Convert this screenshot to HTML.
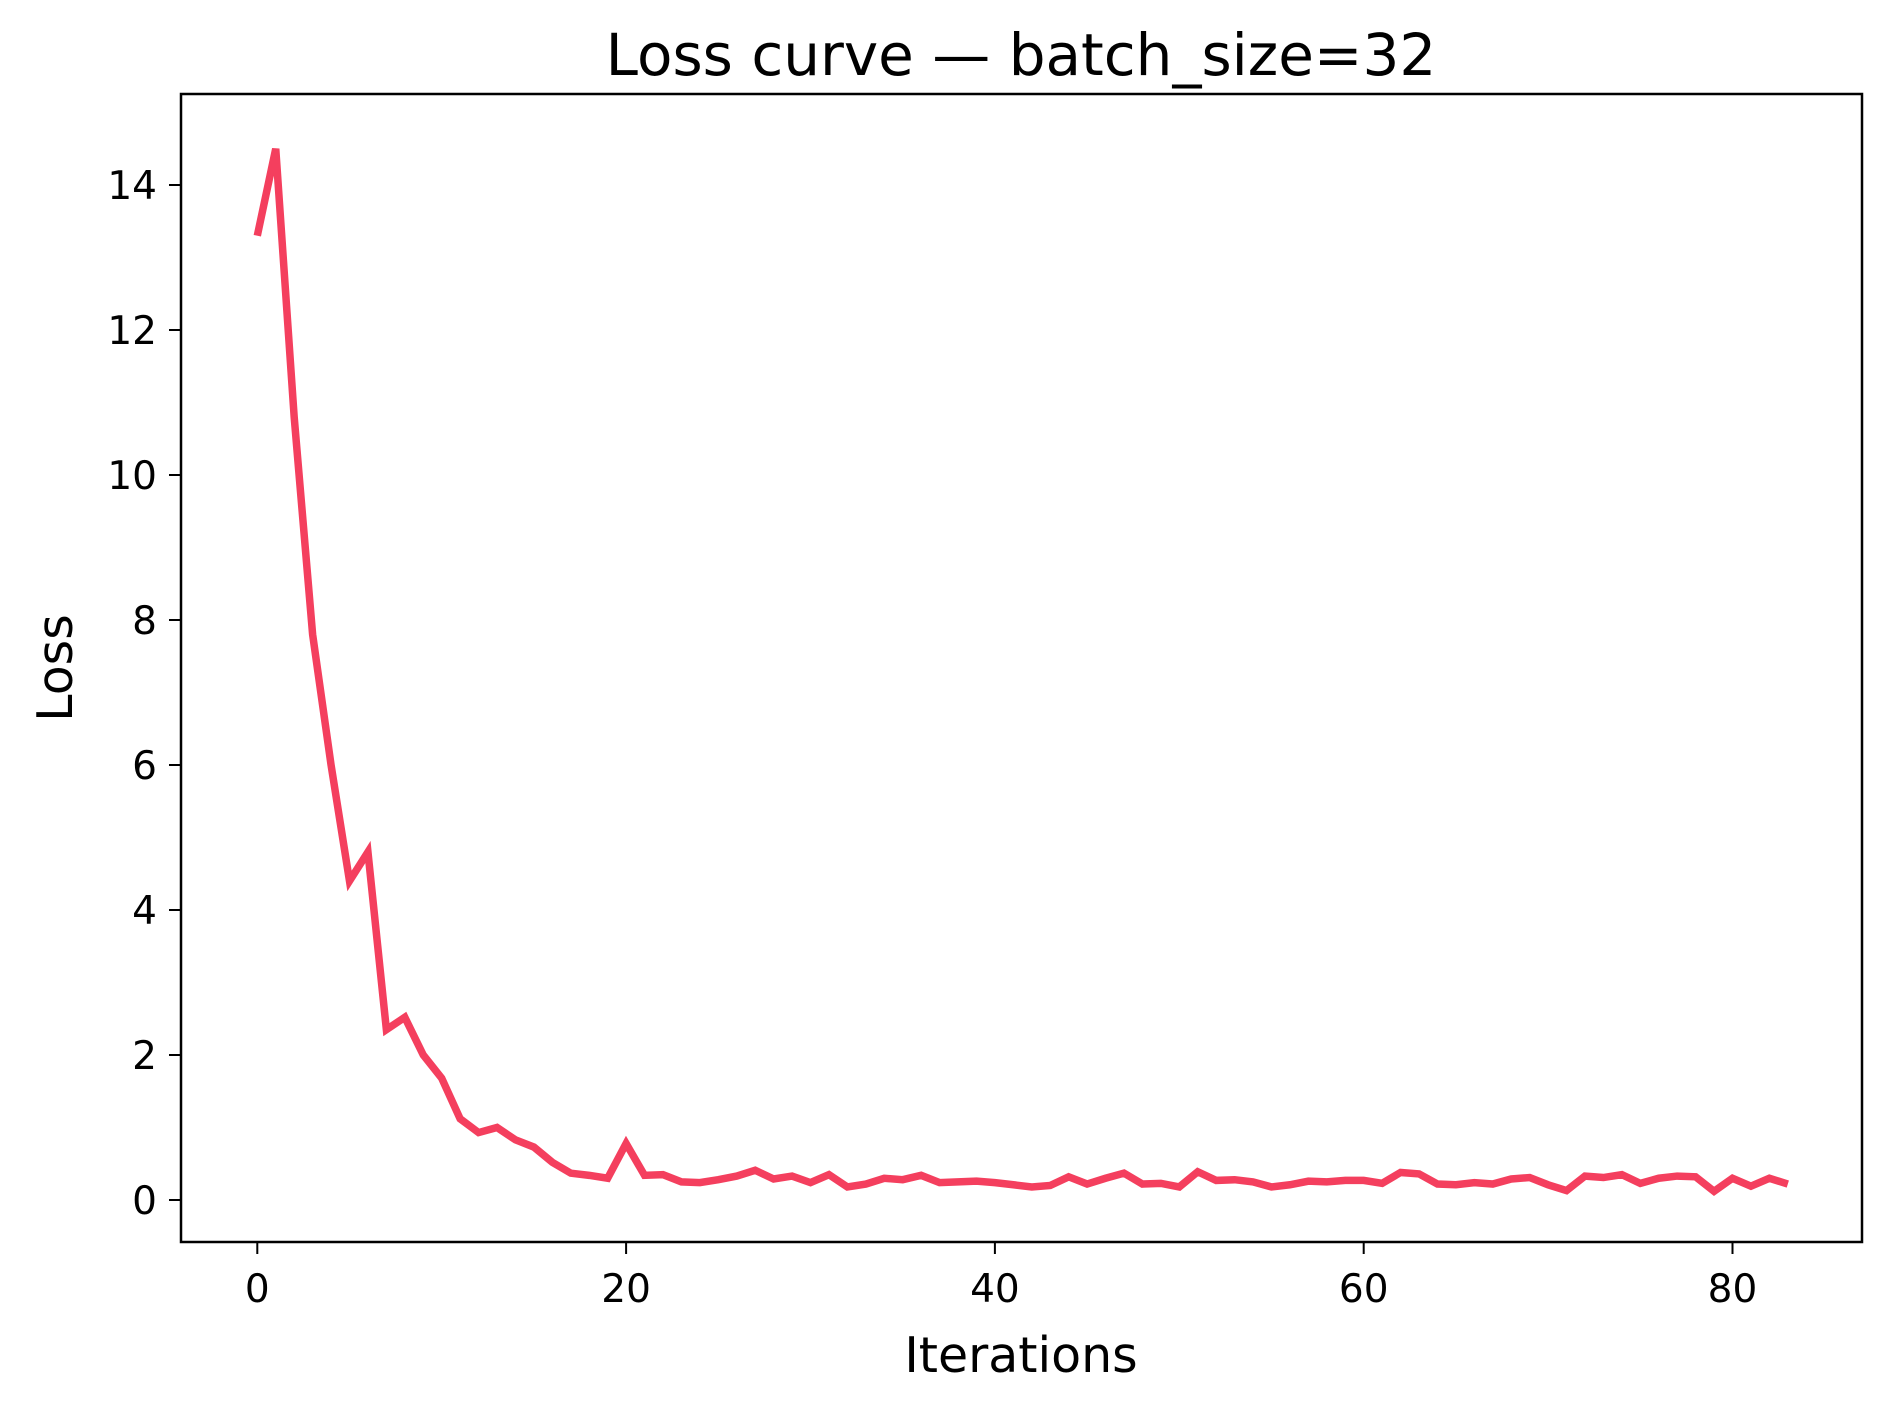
<!DOCTYPE html>
<html><head><meta charset="utf-8"><style>
html,body{margin:0;padding:0;background:#fff;}
svg text{font-family:"DejaVu Sans","Liberation Sans",sans-serif;fill:#000;}
</style></head><body>
<svg id="chart" width="1892" height="1411" viewBox="0 0 1892 1411" xmlns="http://www.w3.org/2000/svg">
<rect x="0" y="0" width="1892" height="1411" fill="#fff"/>
<text x="1021" y="75" font-size="58" text-anchor="middle">Loss curve — batch_size=32</text>
<text x="1021" y="1372" font-size="49" text-anchor="middle">Iterations</text>
<text x="0" y="0" font-size="49" text-anchor="middle" transform="translate(72,668) rotate(-90)">Loss</text>
<g id="xticks"></g>
<g id="yticks"></g>
<polyline id="line" fill="none" stroke="#f43f5e" stroke-width="7.5" stroke-linejoin="miter" stroke-miterlimit="4"/>
<rect x="181" y="94" width="1681" height="1148" fill="none" stroke="#000" stroke-width="2.5"/>
</svg>
<script>
const iterations = [];
const lossValues = [13.3,14.5,10.8,7.8,6.0,4.4,4.8,2.35,2.52,2.0,1.68,1.12,0.93,1.0,0.83,0.73,0.52,0.37,0.34,0.3,0.78,0.34,0.35,0.25,0.24,0.28,0.33,0.41,0.29,0.33,0.24,0.35,0.18,0.22,0.3,0.28,0.34,0.24,0.25,0.26,0.24,0.21,0.18,0.2,0.32,0.22,0.3,0.37,0.22,0.23,0.18,0.39,0.27,0.28,0.25,0.18,0.21,0.26,0.25,0.27,0.27,0.23,0.38,0.36,0.22,0.21,0.24,0.22,0.29,0.31,0.21,0.13,0.33,0.31,0.35,0.23,0.3,0.33,0.32,0.12,0.3,0.19,0.3,0.22];
const xTickValues = [0,20,40,60,80];
const yTickValues = [0,2,4,6,8,10,12,14];
for (let i = 0; i < lossValues.length; i++) iterations.push(i);

function xScale(v){ return 257.3 + v * 18.44; }
function yScale(v){ return 1200 - v * 72.5; }

const NS = "http://www.w3.org/2000/svg";
document.getElementById('line').setAttribute('points', iterations.map((x,i)=>xScale(x).toFixed(2)+','+yScale(lossValues[i]).toFixed(2)).join(' '));

const xg = document.getElementById('xticks');
xTickValues.forEach(v=>{
  const x = xScale(v);
  const l = document.createElementNS(NS,'line');
  l.setAttribute('x1',x); l.setAttribute('x2',x); l.setAttribute('y1',1242); l.setAttribute('y2',1254);
  l.setAttribute('stroke','#000'); l.setAttribute('stroke-width','2');
  
  
  xg.appendChild(l);
  const t = document.createElementNS(NS,'text');
  t.setAttribute('x',x); t.setAttribute('y',1302); t.setAttribute('font-size','39'); t.setAttribute('text-anchor','middle');
  t.textContent = v;
  
  
  xg.appendChild(t);
});
const yg = document.getElementById('yticks');
yTickValues.forEach(v=>{
  const y = yScale(v);
  const l = document.createElementNS(NS,'line');
  l.setAttribute('x1',169); l.setAttribute('x2',181); l.setAttribute('y1',y); l.setAttribute('y2',y);
  l.setAttribute('stroke','#000'); l.setAttribute('stroke-width','2');
  
  
  yg.appendChild(l);
  const t = document.createElementNS(NS,'text');
  t.setAttribute('x',157); t.setAttribute('y',y+14); t.setAttribute('font-size','39'); t.setAttribute('text-anchor','end');
  t.textContent = v;
  
  
  yg.appendChild(t);
});
</script>
</body></html>
